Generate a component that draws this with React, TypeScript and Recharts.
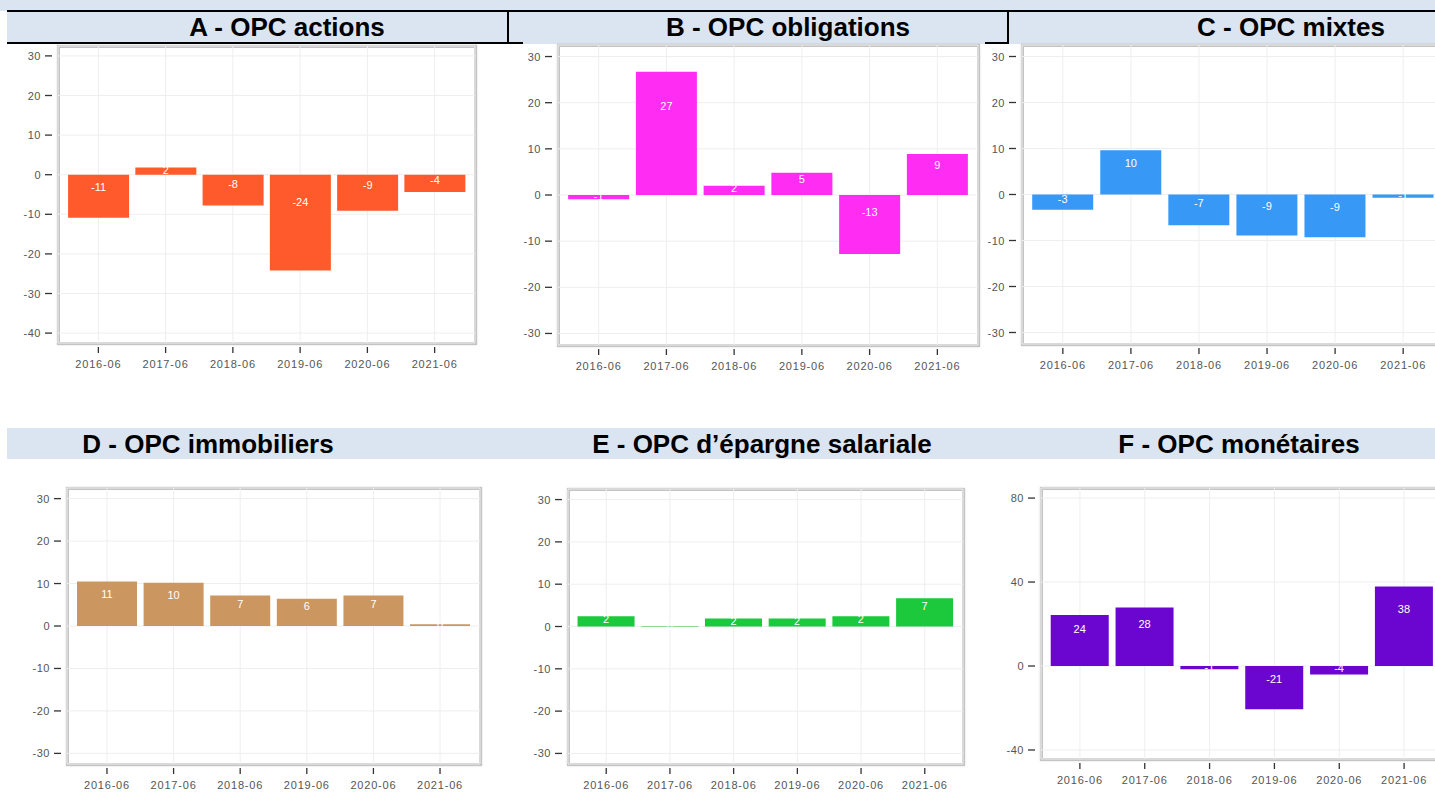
import React from "react";
import { BarChart, Bar, XAxis, YAxis, CartesianGrid, LabelList } from "recharts";

const periods = ["2016-06", "2017-06", "2018-06", "2019-06", "2020-06", "2021-06"];

const actions = [-10.9, 1.8, -7.8, -24.2, -9.1, -4.4];
const obligations = [-0.9, 26.7, 2.0, 4.8, -12.8, 8.9];
const mixtes = [-3.3, 9.6, -6.7, -8.9, -9.3, -0.7];
const immobiliers = [10.5, 10.2, 7.2, 6.4, 7.2, 0.4];
const epargneSalariale = [2.4, 0.1, 1.9, 1.9, 2.4, 6.7];
const monetaires = [24.3, 27.9, -1.5, -20.6, -4.0, 37.9];

const ticksA = [-40, -30, -20, -10, 0, 10, 20, 30];
const ticks30 = [-30, -20, -10, 0, 10, 20, 30];
const ticksF = [-40, 0, 40, 80];

const titlesTop = ["A - OPC actions", "B - OPC obligations", "C - OPC mixtes"];
const titlesBottom = ["D - OPC immobiliers", "E - OPC d\u2019épargne salariale", "F - OPC monétaires"];

const FONT = "'Liberation Sans', Arial, sans-serif";
const BAND = "#dbe5f1";
const AXIS_W = 60;
const AXIS_H = 40;
const M = 4;

type Panel = {
  values: number[];
  color: string;
  domain: [number, number];
  ticks: number[];
  left: number;
  top: number;
  w: number;
  h: number;
};

const panels: Panel[] = [
  { values: actions, color: "#ff5a2b", domain: [-42.5, 32.5], ticks: ticksA, left: 58, top: 46, w: 417, h: 297 },
  { values: obligations, color: "#ff2cf4", domain: [-32.5, 32.5], ticks: ticks30, left: 558, top: 45, w: 420, h: 300 },
  { values: mixtes, color: "#3898f5", domain: [-32.5, 32.5], ticks: ticks30, left: 1022, top: 45, w: 422, h: 299 },
  { values: immobiliers, color: "#cb965f", domain: [-32.5, 32.5], ticks: ticks30, left: 67, top: 488, w: 413, h: 276 },
  { values: epargneSalariale, color: "#1cc83c", domain: [-32.5, 32.5], ticks: ticks30, left: 568, top: 489, w: 395, h: 275 },
  { values: monetaires, color: "#6a06cf", domain: [-44.3, 84.8], ticks: ticksF, left: 1041, top: 488, w: 402, h: 271 },
];

const XTick = (props: any) => {
  const { x, y, payload } = props;
  return (
    <g>
      <line x1={x} x2={x} y1={y + 4} y2={y + 10} stroke="#333" strokeWidth={1.3} />
      <text x={x} y={y + 25} textAnchor="middle" fontSize={11} fill="#555" fontFamily={FONT} letterSpacing={0.8}>
        {payload.value}
      </text>
    </g>
  );
};

const YTick = (props: any) => {
  const { x, y, payload } = props;
  return (
    <g>
      <line x1={x - 13} x2={x - 6} y1={y} y2={y} stroke="#333" strokeWidth={1.3} />
      <text x={x - 17} y={y + 4} textAnchor="end" fontSize={11} fill="#555" fontFamily={FONT} letterSpacing={0.5}>
        {payload.value}
      </text>
    </g>
  );
};

const BarLabel = (props: any) => {
  const vb = props.viewBox ?? props;
  const { x, y, width, height } = vb;
  const value = Number(props.value);
  if (x == null || y == null) return null;
  const top = Math.min(y, y + height);
  const bottom = Math.max(y, y + height);
  const cy = value >= 0 ? bottom - (bottom - top) * 0.72 : top + (bottom - top) * 0.29;
  return (
    <text x={x + width / 2} y={cy + 4} textAnchor="middle" fontSize={11} fill="#ffffff" fontFamily={FONT}>
      {Math.round(value)}
    </text>
  );
};

const PanelChart = ({ p }: { p: Panel }) => {
  const data = periods.map((period, i) => ({ period, value: p.values[i] }));
  const pad = p.w / 62;
  return (
    <>
      {/* panel border, under the chart */}
      <div
        style={{
          position: "absolute",
          left: p.left - 1.5,
          top: p.top - 1.5,
          width: p.w + 3,
          height: p.h + 3,
          border: "3px solid #c4c4c4",
          boxSizing: "border-box",
          boxShadow: "0 0 2px rgba(0,0,0,0.15)",
        }}
      />
      <div style={{ position: "absolute", left: p.left - AXIS_W, top: p.top - M }}>
        <BarChart
          width={AXIS_W + p.w + M}
          height={M + p.h + AXIS_H}
          data={data}
          margin={{ top: M, right: M, bottom: 0, left: 0 }}
          barCategoryGap="5%"
        >
          <CartesianGrid stroke="#eeeeee" strokeWidth={1} />
          <XAxis
            dataKey="period"
            padding={{ left: pad, right: pad }}
            axisLine={false}
            tickLine={false}
            tickSize={0}
            tickMargin={0}
            height={AXIS_H}
            interval={0}
            tick={<XTick />}
          />
          <YAxis
            type="number"
            domain={p.domain}
            ticks={p.ticks}
            allowDataOverflow
            interval={0}
            axisLine={false}
            tickLine={false}
            tickSize={0}
            tickMargin={0}
            width={AXIS_W}
            tick={<YTick />}
          />
          <Bar dataKey="value" fill={p.color} isAnimationActive={false}>
            <LabelList dataKey="value" content={<BarLabel />} />
          </Bar>
        </BarChart>
      </div>
    </>
  );
};

const Title = ({ text, cx, y }: { text: string; cx: number; y: number }) => (
  <div
    style={{
      position: "absolute",
      left: cx - 300,
      width: 600,
      top: y,
      textAlign: "center",
      fontFamily: FONT,
      fontWeight: "bold",
      fontSize: 26,
      lineHeight: "30px",
      color: "#000",
      whiteSpace: "nowrap",
    }}
  >
    {text}
  </div>
);

const App: React.FC = () => {
  const topCenters = [287, 788, 1291];
  const bottomCenters = [208, 762, 1239];
  return (
    <div
      style={{
        position: "fixed",
        left: 0,
        top: 0,
        width: 1435,
        height: 792,
        overflow: "hidden",
        background: "#ffffff",
      }}
    >
      {/* top header band */}
      <div style={{ position: "absolute", left: 0, top: 0, width: 1435, height: 11, background: BAND }} />
      <div style={{ position: "absolute", left: 7, top: 11, width: 1428, height: 33, background: BAND }} />
      <div style={{ position: "absolute", left: 7, top: 10, width: 1428, height: 2, background: "#000" }} />
      <div style={{ position: "absolute", left: 7, top: 42, width: 516, height: 2, background: "#000" }} />
      <div style={{ position: "absolute", left: 985, top: 42, width: 23, height: 2, background: "#000" }} />
      <div style={{ position: "absolute", left: 507, top: 11, width: 2, height: 33, background: "#000" }} />
      <div style={{ position: "absolute", left: 1007, top: 11, width: 2, height: 33, background: "#000" }} />
      {titlesTop.map((t, i) => (
        <Title key={t} text={t} cx={topCenters[i]} y={12} />
      ))}

      {/* bottom header band */}
      <div style={{ position: "absolute", left: 7, top: 428, width: 1428, height: 31, background: BAND }} />
      {titlesBottom.map((t, i) => (
        <Title key={t} text={t} cx={bottomCenters[i]} y={429} />
      ))}

      {panels.map((p, i) => (
        <PanelChart key={i} p={p} />
      ))}
    </div>
  );
};

export default App;
